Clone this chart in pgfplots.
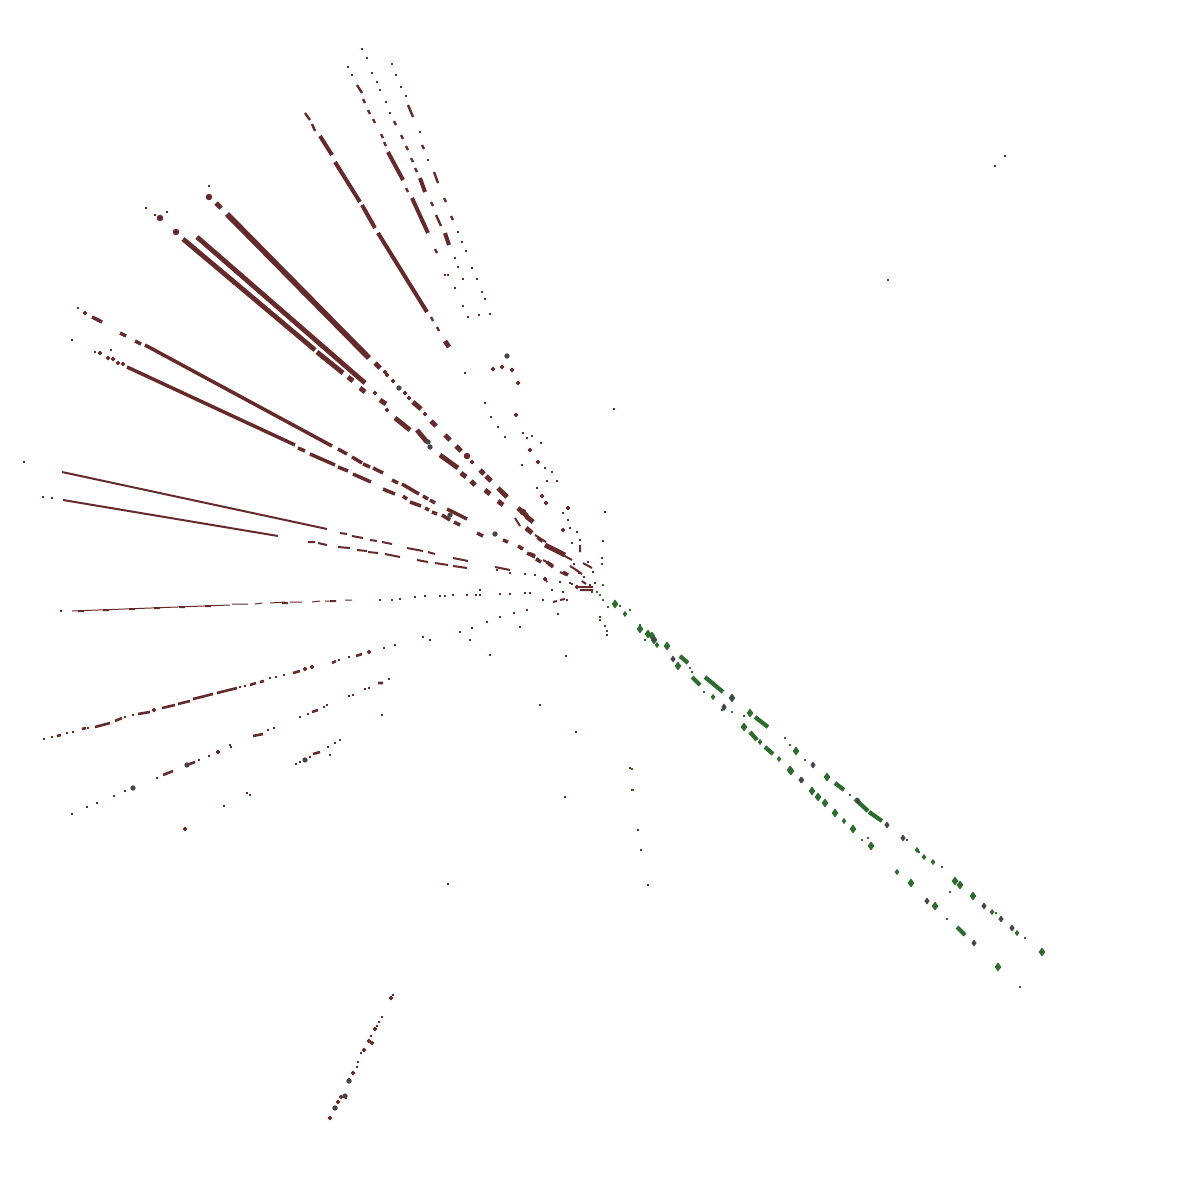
\documentclass[border=0pt]{standalone}
\usepackage{pgfplots}
\pgfplotsset{compat=1.18}
\definecolor{maroon}{HTML}{652A2A}
\definecolor{leaf}{HTML}{2E6B2E}
\definecolor{slate}{HTML}{45454A}
% one data unit is one pixel of the reference
\pgfplotsset{
  seg/.style={no markers, line cap=butt, line join=round},
  dots/.style={only marks, mark=*, mark size=#1, mark options={draw=none}},
  gems/.style={only marks, mark=diamond*, mark size=#1, mark options={draw=none}},
  px/.style={only marks, mark=square*, mark size=0.3bp, mark options={draw=none}},
}
\begin{document}
\begin{tikzpicture}
\useasboundingbox (0,0) rectangle (600bp,591bp);
\begin{axis}[
  anchor=south west, at={(0,0)},
  scale only axis, width=600bp, height=591bp,
  xmin=0, xmax=1200, ymin=0, ymax=1182,
  y dir=reverse, hide axis, clip=false, unbounded coords=jump,
]
% widest rays
\addplot[seg, maroon, line width=2.8bp] coordinates {
  (227,214) (369,358)
};
\addplot[seg, maroon, line width=2.4bp] coordinates {
  (197,237) (365,383) (0,nan)
  (183,239) (315,350) (0,nan)
  (375,363) (380,368) (0,nan) (413,402) (421,409) (0,nan) (317,352) (343,373) (0,nan)
  (395,418) (410,430) (0,nan) (417,430) (427,442) (0,nan) (440,455) (458,468) (0,nan)
  (498,488) (507,497) (0,nan) (518,508) (527,516) (0,nan) (545,545) (565,555) (0,nan)
  (216,203) (221,208) (0,nan) (445,341) (449,347) (0,nan) (431,421) (436,426) (0,nan)
  (445,435) (450,440) (0,nan) (456,446) (461,451) (0,nan) (480,470) (484,474) (0,nan)
  (486,476) (491,481) (0,nan) (526,516) (533,522) (0,nan) (526,528) (532,533) (0,nan)
  (348,377) (353,381) (0,nan) (360,388) (365,392) (0,nan) (461,473) (466,477) (0,nan)
  (471,481) (475,485) (0,nan) (485,490) (490,494) (0,nan) (498,501) (503,505) (0,nan)
  (380,400) (386,404)
};
% medium rays
\addplot[seg, maroon, line width=1.75bp] coordinates {
  (145,345) (332,446) (0,nan) (127,367) (295,445) (0,nan) (310,454) (335,465) (0,nan)
  (92,317) (102,322) (0,nan) (120,333) (126,336) (0,nan) (135,341) (141,344) (0,nan)
  (338,449) (347,454) (0,nan) (352,457) (362,463) (0,nan) (363,464) (370,467) (0,nan)
  (373,468) (383,473) (0,nan) (402,484) (419,494) (0,nan) (447,509) (467,519) (0,nan)
  (298,448) (305,451) (0,nan) (338,467) (348,471) (0,nan) (353,474) (371,482) (0,nan)
  (383,489) (395,494) (0,nan) (410,502) (421,506) (0,nan) (432,512) (437,514) (0,nan)
  (442,515) (450,520) (0,nan) (454,522) (460,525) (0,nan) (477,533) (483,536) (0,nan)
  (527,553) (535,557) (0,nan) (547,562) (553,567) (0,nan) (392,480) (398,483) (0,nan)
  (423,496) (428,499) (0,nan) (430,500) (435,503) (0,nan) (403,496) (407,499) (0,nan)
  (425,508) (429,510) (0,nan) (503,540) (508,542) (0,nan) (518,546) (523,549) (0,nan)
  (536,559) (541,562) (0,nan) (563,572) (568,575)
};
\addplot[seg, maroon, line width=2bp] coordinates {
  (320,136) (332,155) (0,nan) (335,162) (360,202) (0,nan)
  (362,205) (375,228) (0,nan) (378,233) (427,312) (0,nan)
  (388,152) (403,180) (0,nan) (412,198) (428,233) (0,nan)
  (420,178) (425,192) (0,nan) (445,233) (449,245)
};
\addplot[seg, maroon, line width=1.2bp] coordinates {
  (305,113) (310,120) (0,nan) (312,124) (315,131) (0,nan) (357,85) (362,93) (0,nan)
  (434,172) (438,183) (0,nan) (408,105) (413,117) (0,nan) (431,317) (433,321) (0,nan)
  (437,327) (439,331) (0,nan) (363,99) (365,103) (0,nan) (368,110) (370,114) (0,nan)
  (373,119) (375,123) (0,nan) (381,134) (383,138) (0,nan) (384,142) (386,146) (0,nan)
  (406,188) (408,192) (0,nan) (435,249) (437,253) (0,nan) (394,121) (396,125) (0,nan)
  (401,135) (403,139) (0,nan) (406,146) (408,150) (0,nan) (411,158) (413,162) (0,nan)
  (415,168) (417,172) (0,nan) (431,202) (433,206) (0,nan) (436,215) (441,226) (0,nan)
  (422,145) (424,149) (0,nan) (444,198) (446,202) (0,nan) (451,216) (453,220)
};
% thin rays
\addplot[seg, maroon, line width=1bp] coordinates {
  (62,472) (327,529) (0,nan) (63,500) (278,536) (0,nan)
  (308,542) (315,542) (0,nan) (318,543) (327,545) (0,nan)
  (340,533) (347,534) (0,nan) (352,536) (363,538) (0,nan) (370,540) (377,541) (0,nan)
  (382,542) (392,544) (0,nan) (407,548) (423,551) (0,nan) (428,552) (435,554) (0,nan)
  (453,558) (468,561) (0,nan)
  (338,547) (350,548) (0,nan) (357,550) (367,551) (0,nan) (368,552) (378,553) (0,nan)
  (385,554) (400,557) (0,nan) (417,560) (428,562) (0,nan) (435,563) (448,565) (0,nan)
  (453,566) (467,568) (0,nan) (495,567) (510,570) (0,nan)
  (78,611) (84,611) (0,nan) (103,610) (109,610) (0,nan) (129,609) (135,609) (0,nan)
  (154,608) (160,608) (0,nan) (179,607) (185,607) (0,nan) (205,606) (211,606) (0,nan)
  (282,603) (288,603) (0,nan) (330,601) (336,601)
};
\addplot[seg, maroon, line width=1.3bp] coordinates {
  (95,727) (110,723) (0,nan) (115,721) (122,718) (0,nan) (138,714) (150,712) (0,nan)
  (162,708) (175,705) (0,nan) (178,704) (190,701) (0,nan) (193,699) (213,694) (0,nan)
  (217,693) (237,688) (0,nan) (250,685) (256,683) (0,nan) (260,682) (264,681) (0,nan)
  (293,673) (300,671) (0,nan) (356,656) (362,654) (0,nan) (332,663) (336,661) (0,nan)
  (57,736) (61,735) (0,nan) (82,729) (86,728) (0,nan)
  (163,775) (173,771) (0,nan) (187,765) (195,762) (0,nan) (253,736) (263,734) (0,nan)
  (312,712) (318,710) (0,nan) (313,754) (320,752) (0,nan) (378,683) (383,683)
};
\addplot[seg, maroon, line width=0.5bp] coordinates {
  (72,611) (230,605) (0,nan) (232,604) (248,604) (0,nan) (255,604) (262,603) (0,nan)
  (270,603) (285,602) (0,nan) (290,602) (302,602) (0,nan) (312,602) (320,601) (0,nan)
  (325,601) (336,601) (0,nan) (345,600) (352,600)
};
% round blobs on the rays
\addplot[dots=1.4bp, maroon] coordinates {
  (209,197) (160,218) (176,232) (467,456) (523,512)
};
\addplot[dots=0.9bp, maroon] coordinates {
  (385,372) (387,375) (393,381) (405,393) (409,398) (425,414) (472,462)
  (375,393) (387,410) (493,369) (502,367) (512,370) (516,415)
  (85,313) (108,358) (113,359) (118,363) (123,364) (100,353)
  (521,548) (518,383)
  (577,587) (545,579) (542,496) (546,503)
  (154,710) (369,652) (218,752) (185,829) (305,669) (312,667)
  (530,450) (538,462) (568,508) (563,530)
  (369,1041) (372,1043) (375,1029) (349,1080) (341,1097) (338,1102) (353,1073) (335,1108) (364,1050)
  (330,1118) (391,998)
};
% dark grey blobs
\addplot[dots=1.1bp, slate] coordinates {
  (399,388) (430,447) (495,534) (133,788) (305,760) (187,765) (507,356)
  (345,1096) (349,1081) (335,1108) (450,515) (428,442)
};
% single pixels, rays going out to the edges
\addplot[px, maroon] coordinates {
  (348,67) (352,75) (362,49) (367,58) (372,73) (377,82) (380,90) (386,102) (390,113)
  (392,64) (396,75) (401,87) (406,96) (420,132) (428,160) (458,232) (462,242) (466,251)
  (472,268) (477,279) (482,292) (485,299) (479,315) (490,314) (455,258) (458,267) (463,279)
  (448,275) (455,288) (463,306) (468,317) (445,275)
  (146,208) (155,215) (167,212) (209,186) (72,340) (24,462) (43,497) (52,498)
  (78,308) (95,352) (111,350)
  (44,739) (52,737) (67,733) (73,732) (88,728) (125,717) (133,715) (240,687) (245,686)
  (270,678) (276,677) (284,675) (306,669) (339,660) (349,657) (384,648) (395,645) (423,637)
  (72,814) (87,807) (97,803) (114,796) (125,791) (157,778) (199,760) (209,756) (231,747) (230,745)
  (268,730) (274,728) (300,717) (308,714) (324,707) (327,705) (349,696) (353,695) (365,689) (369,688) (389,679)
  (296,764) (310,757) (328,747) (335,743) (340,740) (224,806) (247,793) (382,715)
  (61,611) (380,600) (392,600) (400,599) (415,597) (425,596) (440,596) (445,596) (453,595)
  (467,595) (476,595) (480,595) (500,594) (510,594) (525,593) (530,593)
  (346,1098) (357,1067) (358,1062) (361,1053) (371,1036) (377,1026) (379,1022) (382,1017) (393,995)
  (465,373) (485,403) (491,417) (498,427) (505,437) (523,433) (527,438) (532,436) (541,443)
  (522,465) (545,468) (552,472) (547,481) (557,481) (537,488) (567,508) (563,513) (568,520)
  (577,532) (570,528) (572,543) (580,540) (574,564) (579,573) (588,562) (593,572) (584,577)
  (590,585) (595,583) (585,590) (570,583) (560,582) (563,592) (572,584) (552,590) (567,600)
  (514,613) (527,610) (558,614) (543,600) (480,590) (497,570) (510,573) (525,574) (535,575)
  (614,409) (605,512) (603,541) (602,558) (602,564) (1005,156) (995,166) (888,280)
  (630,768) (632,790) (641,850) (638,830) (648,885) (576,732) (540,705) (566,656) (565,797)
  (448,884) (607,635) (600,617) (605,626) (520,627) (490,655) (470,640) (430,640) (487,622)
  (1020,987) (460,632) (472,628) (500,617) (330,755) (300,762) (250,795)
};
% short scraps in the middle of the fan
\addplot[seg, maroon, line width=1bp] coordinates {
  (583,563) (592,568) (0,nan) (563,555) (572,560) (0,nan) (560,572) (566,575) (0,nan)
  (575,587) (593,587) (0,nan) (580,590) (593,590) (0,nan) (560,600) (565,599) (0,nan)
  (570,566) (578,571) (0,nan) (535,535) (546,542) (0,nan) (537,538) (542,542) (0,nan)
  (537,558) (540,562) (0,nan) (543,560) (553,565) (0,nan) (515,518) (520,526) (0,nan)
  (530,553) (535,555) (0,nan) (580,545) (580,552) (0,nan) (545,578) (547,582) (0,nan)
  (553,602) (557,601) (0,nan) (576,570) (582,574) (0,nan) (582,581) (586,584)
};
% green rays
\addplot[seg, leaf, line width=2.1bp] coordinates {
  (680,656) (688,663) (0,nan) (692,677) (700,685) (0,nan)
  (705,677) (723,692) (0,nan) (755,717) (768,727) (0,nan) (750,732) (757,740) (0,nan)
  (765,747) (773,754) (0,nan) (835,783) (844,790) (0,nan) (855,799) (868,811) (0,nan)
  (869,812) (882,821) (0,nan) (957,927) (965,935)
};
\addplot[gems=1.9bp, leaf] coordinates {
  (615,604) (640,629) (648,634) (652,636) (654,640) (667,646) (678,666) (732,698) (750,713) (744,727)
  (790,770) (796,751) (812,791) (818,797) (825,803) (835,813) (853,829) (871,846) (911,883)
  (998,967) (827,777) (791,771) (955,881) (960,885) (935,906) (1042,952) (973,896)
};
\addplot[gems=1.2bp, leaf] coordinates {
  (625,614) (657,645) (713,697) (760,742) (779,759) (844,821) (897,872)
  (917,850) (924,857) (933,862) (992,912) (1017,933) (812,791) (802,780) (724,708)
};
\addplot[gems=1.4bp, slate] coordinates {
  (673,659) (813,765) (984,906) (1001,919) (1012,928) (974,943) (927,901) (887,825) (903,838)
  (801,780) (654,639) (724,707) (732,698) (858,801)
};
\addplot[px, leaf] coordinates {
  (592,592) (600,595) (603,600) (608,607) (620,606) (630,610) (640,625) (645,640)
  (600,620) (607,631) (632,769) (633,790) (690,668) (692,672) (704,692) (722,710) (732,712)
  (744,716) (785,738) (790,745) (805,760) (850,795) (879,820) (862,840) (868,838)
  (907,840) (919,852) (942,867) (1020,987) (947,919) (950,892) (1025,938) (996,913)
  (603,585) (597,592)
};
\end{axis}
\end{tikzpicture}
\end{document}
